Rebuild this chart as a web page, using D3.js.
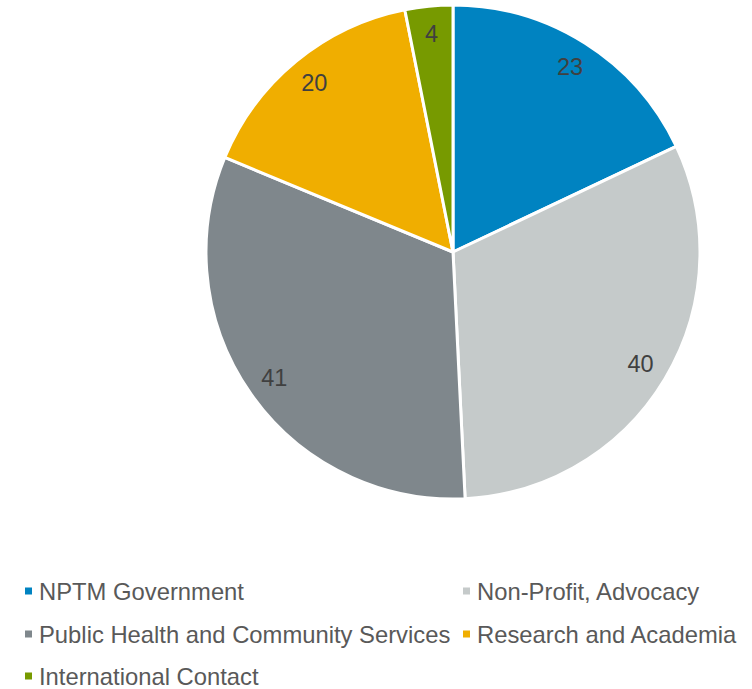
<!DOCTYPE html>
<html>
<head>
<meta charset="utf-8">
<script src="https://cdn.jsdelivr.net/npm/d3@7"></script>
<style>
  html, body { margin: 0; padding: 0; background: #ffffff; }
  svg { display: block; }
</style>
</head>
<body>
<svg id="chart" width="752" height="689"></svg>
<script>
// Contacts by sector
const categories = [
  "NPTM Government",
  "Non-Profit, Advocacy",
  "Public Health and Community Services",
  "Research and Academia",
  "International Contact"
];
const values = [23, 40, 41, 20, 4];
const colors = ["#0083C1", "#C5CACA", "#7F878C", "#F0AE00", "#779A00"];

const svg = d3.select("#chart");
const cx = 453, cy = 252, radius = 247;

const data = categories.map((c, i) => ({ name: c, value: values[i], color: colors[i] }));

const pie = d3.pie().sort(null).value(d => d.value);
const arc = d3.arc().innerRadius(0).outerRadius(radius);
const labelArc = d3.arc().innerRadius(radius * 0.885).outerRadius(radius * 0.885);

const g = svg.append("g").attr("transform", `translate(${cx},${cy})`);
const arcs = pie(data);

g.selectAll("path.slice")
  .data(arcs)
  .join("path")
  .attr("class", "slice")
  .attr("d", arc)
  .attr("fill", d => d.data.color)
  .attr("stroke", "#ffffff")
  .attr("stroke-width", 3)
  .attr("stroke-linejoin", "round");

g.selectAll("text.value")
  .data(arcs)
  .join("text")
  .attr("class", "value")
  .attr("transform", d => `translate(${labelArc.centroid(d)})`)
  .attr("text-anchor", "middle")
  .attr("dominant-baseline", "central")
  .attr("font-family", "'Liberation Sans', Arial, sans-serif")
  .attr("font-size", 23.5)
  .attr("fill", "#404040")
  .text(d => d.data.value);

// Legend: two columns, items flow left to right
const colX = [25, 463];
const rowY = [591, 634, 676];
const legend = svg.append("g");
const items = legend.selectAll("g.item")
  .data(data)
  .join("g")
  .attr("class", "item")
  .attr("transform", (d, i) => `translate(${colX[i % 2]},${rowY[Math.floor(i / 2)]})`);

items.append("rect")
  .attr("x", 0).attr("y", -3.5)
  .attr("width", 7).attr("height", 7)
  .attr("fill", d => d.color);

items.append("text")
  .attr("x", 14)
  .attr("y", 0)
  .attr("dominant-baseline", "central")
  .attr("font-family", "'Liberation Sans', Arial, sans-serif")
  .attr("font-size", 23.8)
  .attr("fill", "#595959")
  .text(d => d.name);
</script>
</body>
</html>
